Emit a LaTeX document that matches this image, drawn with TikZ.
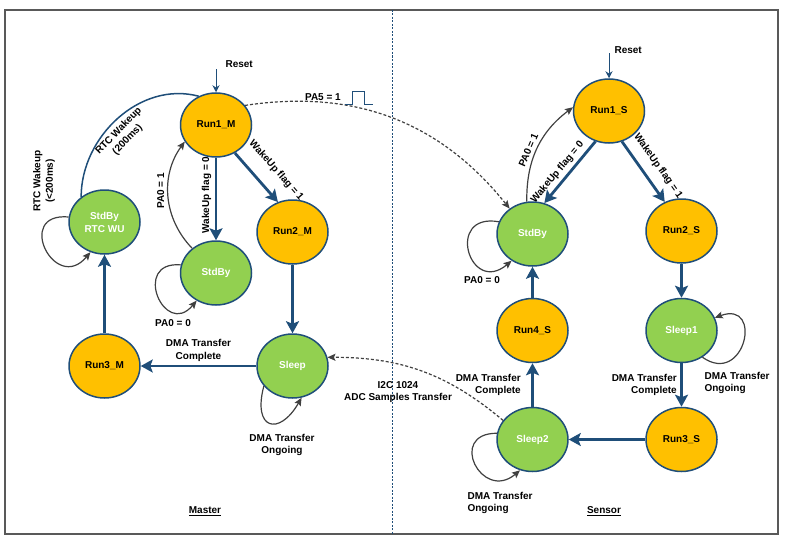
\documentclass[tikz,border=0pt]{standalone}
\usepackage{fontspec}
\setmainfont{Liberation Sans}
\usetikzlibrary{positioning, shapes, arrows.meta}

\definecolor{lineblue}{HTML}{1F4E79}
\definecolor{runorange}{HTML}{FFC000}
\definecolor{idlegreen}{HTML}{92D050}
\definecolor{loopgray}{HTML}{404040}
\definecolor{framegray}{HTML}{595959}

\begin{document}
\begin{tikzpicture}[x=1pt, y=-1pt]
    \tikzstyle{running} = [draw=lineblue, line width=1.5pt, ellipse, fill=runorange, minimum width=71pt, minimum height=64pt, inner sep=0pt, align=center, font=\bfseries\fontsize{10}{13}\selectfont];
    \tikzstyle{sleeping} = [running, fill=idlegreen, text=white];
    \tikzstyle{lbl} = [align=center, text=black, font=\bfseries\fontsize{10}{12.5}\selectfont];
    \tikzstyle{flow} = [draw=lineblue, line width=2.8pt, -{Stealth[length=12pt, width=13pt, inset=2.5pt]}];
    \tikzstyle{back} = [draw=loopgray, line width=1.2pt, -{Stealth[length=8pt, width=7pt, inset=1.5pt]}];
    \tikzstyle{wire} = [back, dash pattern=on 3pt off 2pt];
    \tikzstyle{entry} = [draw=lineblue, line width=1pt, -{Stealth[length=7pt, width=7pt]}];

    \useasboundingbox (0,0) rectangle (786,543);
    \draw[framegray, line width=1.8pt] (5,10) rectangle (778,534);
    \draw[lineblue, line width=0.8pt, dash pattern=on 2pt off 1.5pt] (392,10) -- (392,534);

    \node[running] at (216,125) (run1m) {Run1\_M};
    \node[sleeping] at (104.5,222) (rtcm) {StdBy\\RTC WU};
    \node[sleeping] at (216,273) (stdbym) {StdBy};
    \node[running] at (292.5,232) (run2m) {Run2\_M};
    \node[sleeping] at (292.5,366) (sleepm) {Sleep};
    \node[running] at (104.5,366) (run3m) {Run3\_M};

    \node[running] at (609,111) (run1s) {Run1\_S};
    \node[sleeping] at (532.5,234) (stdbys) {StdBy};
    \node[running] at (681.5,231) (run2s) {Run2\_S};
    \node[sleeping] at (681.5,330.5) (sleep1s) {Sleep1};
    \node[running] at (532.5,330.5) (run4s) {Run4\_S};
    \node[sleeping] at (532.5,439.5) (sleep2s) {Sleep2};
    \node[running] at (681.5,439.5) (run3s) {Run3\_S};

    \coordinate[above = 23pt of run1m] (resetm);
    \node[lbl, above right = -2pt and 6pt of resetm] (resetmtext) {Reset};
    \draw[entry] (resetm) -- (run1m);

    \draw[flow] (run1m) -- (stdbym) node[lbl, midway, rotate=90, above=4pt] {WakeUp flag = 0};
    \draw[flow] (run1m.-56) -- (run2m.116) node[lbl, pos=0.62, sloped, above=10pt] {WakeUp flag = 1};
    \draw[flow] (run2m) -- (sleepm);
    \draw[flow] (sleepm) -- (run3m) node[lbl, midway, above] {DMA Transfer\\Complete};
    \draw[flow] (run3m) -- (rtcm);
    \draw[lineblue, line width=1.5pt] (rtcm.133) to[out=90, in=165] node[lbl, pos=0.45, sloped, below=1pt] {RTC Wakeup\\(200ms)} (run1m.121);
    \draw[back] (stdbym.134) to[bend left=40] node[lbl, pos=0.55, rotate=90, above] {PA0 = 1} (run1m.208);
    \draw[back] (rtcm.172) to[out=175, in=230, distance=55pt] (rtcm.245);
    \draw[back] (stdbym.167) to[out=175, in=230, distance=50pt] (stdbym.235);
    \draw[back] (sleepm.215) to[out=255, in=240, distance=45pt] (sleepm.286);

    \coordinate[above = 25pt of run1s] (resets);
    \node[lbl, above right = -4pt and 2pt of resets] (resetstext) {Reset};
    \draw[entry] (resets) -- (run1s);

    \draw[flow] (run1s.246) -- (stdbys.69) node[lbl, pos=0.6, sloped, above] {WakeUp flag = 0};
    \draw[flow] (run1s.-67) -- (run2s.120) node[lbl, pos=0.55, sloped, above=6pt] {WakeUp flag = 1};
    \draw[back] (stdbys.100) to[bend left=27] node[lbl, pos=0.45, sloped, above] {PA0 = 1} (run1s.174);
    \draw[back] (stdbys.160) to[out=170, in=220, distance=55pt] (stdbys.232);
    \draw[flow] (run2s) -- (sleep1s);
    \draw[back] (sleep1s.-52) to[out=-35, in=20, distance=52pt] (sleep1s.21);
    \draw[flow] (sleep1s) -- (run3s) node[lbl, midway, left, align=right] {DMA Transfer\\Complete};
    \draw[flow] (run3s) -- (sleep2s);
    \draw[back] (sleep2s.170) to[out=180, in=220, distance=50pt] (sleep2s.248);
    \draw[flow] (sleep2s) -- (run4s) node[lbl, midway, left=7pt, align=right] {DMA Transfer\\Complete};
    \draw[flow] (run4s) -- (stdbys);

    \draw[wire] (run1m.34) to[bend left=30] node[lbl, pos=0.25, above=-2pt] (pa5) {PA5 = 1} (stdbys.132);
    \draw[lineblue, line width=1.2pt] (pa5.east) ++(0,8) -- ++(8,0) -- ++(0,-13) -- ++(12,0) -- ++(0,13) -- ++(8,0);
    \draw[wire] (sleep2s.147) to[out=140, in=0] (sleepm.14);

    \node[lbl, rotate=90] at (44,181) (rtcnote) {RTC Wakeup\\(<200ms)};
    \node[lbl] at (173,323) (pa0m) {PA0 = 0};
    \node[lbl] at (282,445) (ongoingm) {DMA Transfer\\Ongoing};
    \node[lbl] at (398,392) (i2c) {I2C 1024\\ADC Samples Transfer};
    \node[lbl] at (482,280) (pa0s) {PA0 = 0};
    \node[lbl, anchor=west, align=left] at (701,383) (ongoing1) {DMA Transfer\\Ongoing};
    \node[lbl, anchor=west, align=left] at (464,503) (ongoing2) {DMA Transfer\\Ongoing};
    \node[lbl] at (205,511) (master) {\underline{Master}};
    \node[lbl] at (604,511) (sensor) {\underline{Sensor}};
\end{tikzpicture}
\end{document}
